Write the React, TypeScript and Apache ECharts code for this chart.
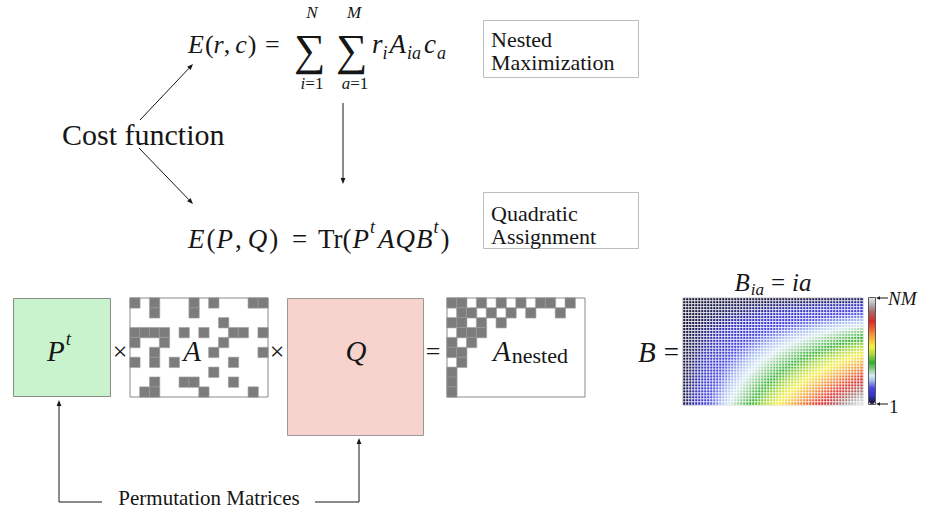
import React, { useEffect, useRef } from "react";
import * as echarts from "echarts";

// ---------- data ----------
const A_MATRIX: number[][] = [
  [1, 0, 1, 0, 0, 0, 1, 0, 1, 0, 0, 0, 1, 1],
  [0, 0, 1, 0, 0, 0, 1, 0, 0, 0, 0, 0, 0, 0],
  [0, 0, 0, 0, 0, 0, 0, 0, 0, 1, 0, 0, 0, 0],
  [1, 1, 1, 1, 0, 1, 0, 1, 0, 0, 1, 1, 0, 1],
  [1, 0, 0, 1, 0, 0, 0, 0, 0, 1, 0, 0, 0, 0],
  [0, 0, 1, 0, 0, 0, 0, 0, 1, 0, 0, 0, 0, 1],
  [1, 0, 1, 0, 1, 0, 0, 0, 0, 0, 1, 0, 0, 0],
  [0, 0, 0, 0, 0, 0, 0, 0, 1, 0, 0, 0, 0, 0],
  [0, 0, 1, 0, 0, 1, 1, 0, 0, 0, 1, 0, 0, 0],
  [0, 1, 1, 0, 0, 0, 0, 1, 0, 0, 0, 0, 1, 0],
];
const A_NESTED: number[][] = [
  [1, 1, 0, 1, 0, 1, 0, 1, 0, 1, 1, 0, 1, 0],
  [0, 1, 1, 0, 1, 0, 1, 0, 1, 0, 0, 1, 0, 0],
  [1, 1, 0, 1, 0, 1, 0, 0, 0, 0, 0, 0, 0, 0],
  [0, 1, 1, 1, 0, 0, 0, 0, 0, 0, 0, 0, 0, 0],
  [1, 0, 1, 0, 0, 0, 0, 0, 0, 0, 0, 0, 0, 0],
  [1, 1, 0, 0, 0, 0, 0, 0, 0, 0, 0, 0, 0, 0],
  [0, 1, 0, 0, 0, 0, 0, 0, 0, 0, 0, 0, 0, 0],
  [1, 0, 0, 0, 0, 0, 0, 0, 0, 0, 0, 0, 0, 0],
  [1, 0, 0, 0, 0, 0, 0, 0, 0, 0, 0, 0, 0, 0],
  [1, 0, 0, 0, 0, 0, 0, 0, 0, 0, 0, 0, 0, 0],
];
// B_ia = i * a  (N rows, M columns), as stated in the figure
const B_ROWS = 36;
const B_COLS = 60;
const B_MIN_LABEL = "1";
const B_MAX_LABEL = "NM";

// ---------- styling ----------
const FF = "'Liberation Serif', 'DejaVu Serif', serif";
const INK = "#161616";
const CMAP_STOPS: [number, string][] = [
  [0.0, "#151532"],
  [0.03, "#20205e"],
  [0.08, "#3434c4"],
  [0.15, "#4646e2"],
  [0.22, "#a4bcf0"],
  [0.27, "#d8eaf2"],
  [0.32, "#94d094"],
  [0.39, "#30b030"],
  [0.47, "#b0da3a"],
  [0.54, "#f4f040"],
  [0.63, "#f4a838"],
  [0.71, "#ee6030"],
  [0.78, "#dc2828"],
  [0.87, "#a86868"],
  [0.94, "#b4b4b4"],
  [1.0, "#e2e2e2"],
];

function hexToRgb(h: string) {
  const n = parseInt(h.slice(1), 16);
  return [(n >> 16) & 255, (n >> 8) & 255, n & 255];
}
function cmapColors(steps: number) {
  const out: string[] = [];
  for (let k = 0; k <= steps; k++) {
    const f = k / steps;
    let j = 0;
    while (j < CMAP_STOPS.length - 2 && f > CMAP_STOPS[j + 1][0]) j++;
    const [f0, c0] = CMAP_STOPS[j];
    const [f1, c1] = CMAP_STOPS[j + 1];
    const t = Math.min(1, Math.max(0, (f - f0) / (f1 - f0)));
    const a = hexToRgb(c0), b = hexToRgb(c1);
    const c = a.map((v, i) => Math.round(v + (b[i] - v) * t));
    out.push(`rgb(${c[0]},${c[1]},${c[2]})`);
  }
  return out;
}

function matrixToCells(m: number[][]) {
  const cells: number[][] = [];
  m.forEach((row, r) => row.forEach((v, c) => { if (v) cells.push([c, r, v]); }));
  return cells;
}
function cats(n: number) {
  return Array.from({ length: n }, (_, i) => String(i + 1));
}

// ---------- text helpers ----------
let _ctx: CanvasRenderingContext2D | null = null;
function measure(t: string, font: string) {
  if (!_ctx) _ctx = document.createElement("canvas").getContext("2d");
  _ctx!.font = font;
  return _ctx!.measureText(t).width;
}
type Run = { t: string; it?: boolean; s: number; dy?: number; gap?: number };
const fontOf = (r: Run) => `${r.it ? "italic " : ""}${r.s}px ${FF}`;
function runsWidth(runs: Run[]) {
  return runs.reduce((w, r) => w + (r.gap || 0) + measure(r.t, fontOf(r)), 0);
}
function typeset(runs: Run[], x0: number, cy: number, center = false) {
  const els: any[] = [];
  let x = center ? x0 - runsWidth(runs) / 2 : x0;
  for (const r of runs) {
    x += r.gap || 0;
    els.push({
      type: "text", x, y: cy + (r.dy || 0), silent: true,
      style: {
        text: r.t, fontFamily: FF, fontSize: r.s, fontStyle: r.it ? "italic" : "normal", fill: INK,
        align: "left", verticalAlign: "middle", textAlign: "left", textVerticalAlign: "middle",
      },
    });
    x += measure(r.t, fontOf(r));
  }
  return els;
}
function arrow(x1: number, y1: number, x2: number, y2: number, head = 6, w = 2.4) {
  const dx = x2 - x1, dy = y2 - y1, L = Math.hypot(dx, dy), ux = dx / L, uy = dy / L;
  const bx = x2 - ux * head, by = y2 - uy * head;
  return [
    { type: "line", silent: true, shape: { x1, y1, x2: bx, y2: by }, style: { stroke: INK, lineWidth: 1 } },
    { type: "polygon", silent: true, shape: { points: [[x2, y2], [bx - uy * w, by + ux * w], [bx + uy * w, by - ux * w]] }, style: { fill: INK } },
  ];
}
function line(x1: number, y1: number, x2: number, y2: number) {
  return { type: "line", silent: true, shape: { x1, y1, x2, y2 }, style: { stroke: INK, lineWidth: 1 } };
}

export default function App() {
  const ref = useRef<HTMLDivElement>(null);
  useEffect(() => {
    if (!ref.current) return;
    const chart = echarts.init(ref.current, undefined, { renderer: "svg" });

    const bData: number[][] = [];
    for (let i = 1; i <= B_ROWS; i++) for (let a = 1; a <= B_COLS; a++) bData.push([a - 1, i - 1, i * a]);

    const S = 26;
    const g: any[] = [];
    // Cost function + arrows
    g.push(...typeset([{ t: "Cost function", s: 30 }], 62, 134));
    g.push(...arrow(140, 120, 193, 64));
    g.push(...arrow(139, 148, 193, 204));
    g.push(...arrow(343, 103, 343, 184));

    // Formula 1
    g.push(...typeset([
      { t: "E", it: true, s: S }, { t: "(", s: S, gap: 1 }, { t: "r", it: true, s: S }, { t: ",", s: S },
      { t: "c", it: true, s: S, gap: 5 }, { t: ")", s: S, gap: 1 },
    ], 188, 44));
    g.push(...typeset([{ t: "=", s: S }], 265, 44));
    g.push(...typeset([{ t: "∑", s: 44 }], 294, 50));
    g.push(...typeset([{ t: "∑", s: 44 }], 336, 50));
    g.push(...typeset([{ t: "N", it: true, s: 17 }], 312, 12, true));
    g.push(...typeset([{ t: "M", it: true, s: 17 }], 354, 12, true));
    g.push(...typeset([{ t: "i", it: true, s: 17 }, { t: "=1", s: 17 }], 312, 83, true));
    g.push(...typeset([{ t: "a", it: true, s: 17 }, { t: "=1", s: 17 }], 355, 83, true));
    g.push(...typeset([
      { t: "r", it: true, s: 27 }, { t: "i", it: true, s: 18, dy: 9 },
      { t: "A", it: true, s: 27, gap: 2 }, { t: "ia", it: true, s: 18, dy: 9, gap: 1 },
      { t: "c", it: true, s: 27, gap: 3 }, { t: "a", it: true, s: 18, dy: 9, gap: 1 },
    ], 372, 44));
    g.push({ type: "rect", silent: true, shape: { x: 483.5, y: 20.5, width: 155, height: 57 }, style: { fill: "none", stroke: "#bdbdbd", lineWidth: 1 } });
    g.push(...typeset([{ t: "Nested", s: 22 }], 491, 39));
    g.push(...typeset([{ t: "Maximization", s: 22 }], 491, 62));

    // Formula 2
    const S2 = 27;
    g.push(...typeset([
      { t: "E", it: true, s: S2 }, { t: "(", s: S2, gap: 2 }, { t: "P", it: true, s: S2, gap: 1 }, { t: ",", s: S2, gap: 2 },
      { t: "Q", it: true, s: S2, gap: 6 }, { t: ")", s: S2, gap: 2 },
    ], 188, 239));
    g.push(...typeset([{ t: "=", s: S2 }], 292, 239));
    g.push(...typeset([
      { t: "Tr(", s: S2 }, { t: "P", it: true, s: S2, gap: 1 }, { t: "t", it: true, s: 18, dy: -12, gap: 1 },
      { t: "A", it: true, s: S2, gap: 3 }, { t: "Q", it: true, s: S2, gap: 1 }, { t: "B", it: true, s: S2, gap: 1 },
      { t: "t", it: true, s: 18, dy: -12, gap: 1 }, { t: ")", s: S2, gap: 2 },
    ], 318, 239));
    g.push({ type: "rect", silent: true, shape: { x: 483.5, y: 192.5, width: 155, height: 56 }, style: { fill: "none", stroke: "#bdbdbd", lineWidth: 1 } });
    g.push(...typeset([{ t: "Quadratic", s: 22 }], 491, 213));
    g.push(...typeset([{ t: "Assignment", s: 22 }], 491, 236));

    // Bottom: P, Q boxes and operators
    g.push({ type: "rect", silent: true, z: -1, shape: { x: 13.5, y: 298.5, width: 97, height: 98 }, style: { fill: "#c9f3cc", stroke: "#8c8c8c", lineWidth: 1 } });
    g.push({ type: "rect", silent: true, z: -1, shape: { x: 287.5, y: 298.5, width: 136, height: 137 }, style: { fill: "#f6d4cd", stroke: "#999999", lineWidth: 1 } });
    g.push(...typeset([{ t: "P", it: true, s: 29 }, { t: "t", it: true, s: 19, dy: -13, gap: 1 }], 47, 351));
    g.push(...typeset([{ t: "×", s: 26 }], 120, 351, true));
    g.push(...typeset([{ t: "A", it: true, s: 29 }], 192, 351, true));
    g.push(...typeset([{ t: "×", s: 26 }], 277, 351, true));
    g.push(...typeset([{ t: "Q", it: true, s: 29 }], 356, 351, true));
    g.push(...typeset([{ t: "=", s: 26 }], 433, 351, true));
    g.push(...typeset([{ t: "A", it: true, s: 29 }, { t: "nested", s: 22, dy: 4, gap: 1 }], 493, 351));
    g.push(...typeset([{ t: "B", it: true, s: 29 }, { t: "=", s: 27, gap: 8 }], 638, 352));
    g.push(...typeset([
      { t: "B", it: true, s: 25 }, { t: "ia", it: true, s: 17, dy: 7, gap: 1 }, { t: "=", s: 25, gap: 7 }, { t: "ia", it: true, s: 25, gap: 7 },
    ], 773, 282, true));

    // Permutation matrices connector
    g.push(...arrow(59, 502, 59, 400));
    g.push(line(59, 502, 102, 502));
    g.push(...arrow(359, 502, 359, 438));
    g.push(line(315, 502, 359, 502));
    g.push(...typeset([{ t: "Permutation Matrices", s: 21 }], 209, 498, true));

    // colorbar labels
    g.push({ type: "rect", silent: true, z: 10, shape: { x: 868.5, y: 297.5, width: 7, height: 107 }, style: { fill: "none", stroke: "#5a5a5a", lineWidth: 1 } });
    g.push(...arrow(888, 298, 876, 298, 4, 1.8));
    g.push(...arrow(888, 404, 876, 404, 4, 1.8));
    g.push(...typeset([{ t: B_MAX_LABEL, it: true, s: 19 }], 888, 298));
    g.push(...typeset([{ t: B_MIN_LABEL, s: 19 }], 889, 406));

    const hiddenAxis = (gi: number, n: number, inverse = false) => ({
      type: "category", gridIndex: gi, data: cats(n), show: false, inverse,
    });

    chart.setOption({
      animation: false,
      grid: [
        { left: 130, top: 298, width: 138, height: 99, show: true, borderColor: "#8a8a8a", borderWidth: 1, backgroundColor: "#fff" },
        { left: 447, top: 298, width: 138, height: 99, show: true, borderColor: "#8a8a8a", borderWidth: 1, backgroundColor: "#fff" },
        { left: 683, top: 298, width: 180, height: 107, show: true, borderColor: "#8a8a8a", borderWidth: 1, backgroundColor: "#fff" },
      ],
      xAxis: [hiddenAxis(0, 14), hiddenAxis(1, 14), hiddenAxis(2, B_COLS)],
      yAxis: [hiddenAxis(0, 10, true), hiddenAxis(1, 10, true), hiddenAxis(2, B_ROWS, true)],
      visualMap: [
        {
          type: "continuous", seriesIndex: [0, 1], dimension: 2, min: 0, max: 1, show: false,
          inRange: { color: ["#7c7c7c", "#7c7c7c"] },
        },
        {
          type: "continuous", seriesIndex: 2, dimension: 2, min: 1, max: B_ROWS * B_COLS,
          inRange: { color: cmapColors(100) }, show: true, orient: "vertical",
          left: 869, top: 298, itemWidth: 6, itemHeight: 106, padding: 0, calculable: false, hoverLink: false,
        },
      ],
      series: [
        { type: "heatmap", xAxisIndex: 0, yAxisIndex: 0, data: matrixToCells(A_MATRIX), silent: true,
          itemStyle: { borderColor: "#a4a4a4", borderWidth: 0.6 } },
        { type: "heatmap", xAxisIndex: 1, yAxisIndex: 1, data: matrixToCells(A_NESTED), silent: true,
          itemStyle: { borderColor: "#a4a4a4", borderWidth: 0.6 } },
        { type: "heatmap", xAxisIndex: 2, yAxisIndex: 2, data: bData, silent: true, progressive: 0,
          itemStyle: { borderColor: "#ffffff", borderWidth: 0.8 } },
      ],
      graphic: g,
    });
    return () => chart.dispose();
  }, []);
  return <div ref={ref} style={{ position: "absolute", left: 0, top: 0, width: 930, height: 509, background: "#fff" }} />;
}
